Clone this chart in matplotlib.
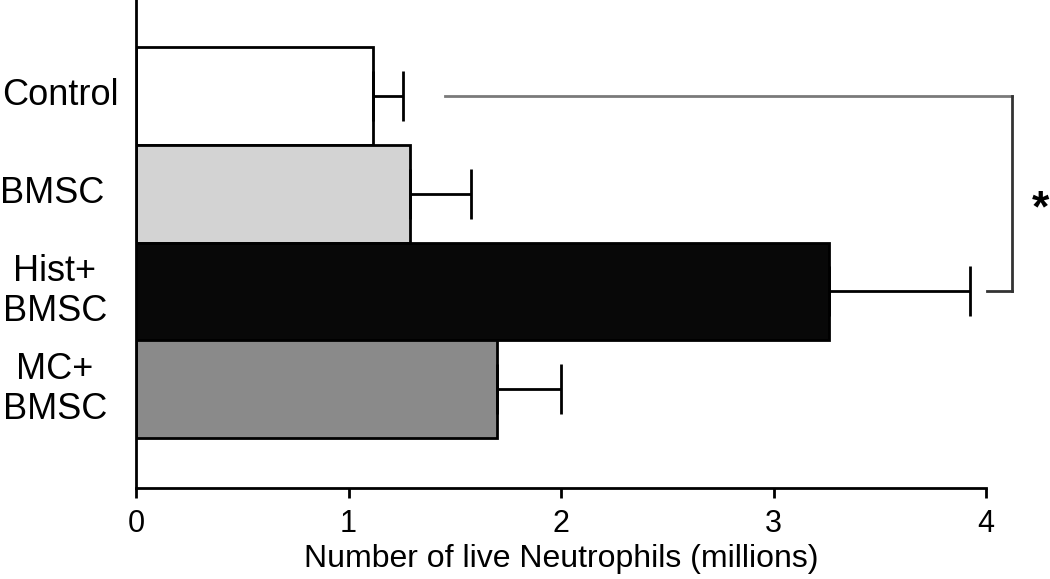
import matplotlib
matplotlib.use("Agg")
import matplotlib.pyplot as plt
from matplotlib.transforms import blended_transform_factory
import numpy as np

plt.rcParams['font.family'] = ['Liberation Sans', 'DejaVu Sans']

categories = ["Control", "BMSC", "Hist+\nBMSC", "MC+\nBMSC"]
means = [1.115, 1.29, 3.26, 1.70]
errors = [0.14, 0.285, 0.665, 0.30]
colors = ["#ffffff", "#d3d3d3", "#080808", "#8a8a8a"]
xticks = [0, 1, 2, 3, 4]
xlabel = "Number of live Neutrophils (millions)"
sig_pair = (0, 2)
sig_left = 1.455
sig_right = 4.12
sig_low_start = 4.005
sig_label = "*"

fig = plt.figure(figsize=(10.5, 5.79), dpi=100)
ax = fig.add_axes([136/1050, 91/579, 850/1050, 488/579])

y = np.arange(len(categories))
ax.barh(y, means, height=1.0, color=colors, edgecolor="black", linewidth=2, zorder=2)
ax.errorbar(means, y, xerr=[np.zeros(len(errors)), errors], fmt="none",
            ecolor="black", elinewidth=2, capsize=18, capthick=2, zorder=3)

ax.set_xlim(0, 4)
ax.set_ylim(4.01, -0.98)
ax.set_xticks(xticks)
ax.set_xticklabels([str(t) for t in xticks], fontsize=22)
ax.set_yticks([])
ax.tick_params(axis="x", direction="out", length=7, width=2, pad=8)
ax.set_xlabel(xlabel, fontsize=23, labelpad=4)

for s in ["top", "right"]:
    ax.spines[s].set_visible(False)
for s in ["left", "bottom"]:
    ax.spines[s].set_linewidth(2)

trans = blended_transform_factory(fig.transFigure, ax.transData)
for yi, lab in zip(y, categories):
    cx = 55 / 1050 if "\n" in lab else (60 if lab == "Control" else 52) / 1050
    ax.text(cx, yi, lab, transform=trans, ha="center", va="center",
            multialignment="center", fontsize=26, linespacing=1.2)

# significance bracket
y0, y1 = sig_pair
ax.plot([sig_left, sig_right], [y0, y0], color="#7a7a7a", lw=2, clip_on=False, zorder=4)
ax.plot([sig_right, sig_right], [y0, y1], color="#333333", lw=2, clip_on=False, zorder=4)
ax.plot([sig_low_start, sig_right], [y1, y1], color="#333333", lw=2, clip_on=False, zorder=4)
ax.text(4.255, (y0 + y1) / 2 + 0.17, sig_label, fontsize=32, fontweight="bold",
        ha="center", va="center", clip_on=False)

fig.savefig("out.png", dpi=100)
